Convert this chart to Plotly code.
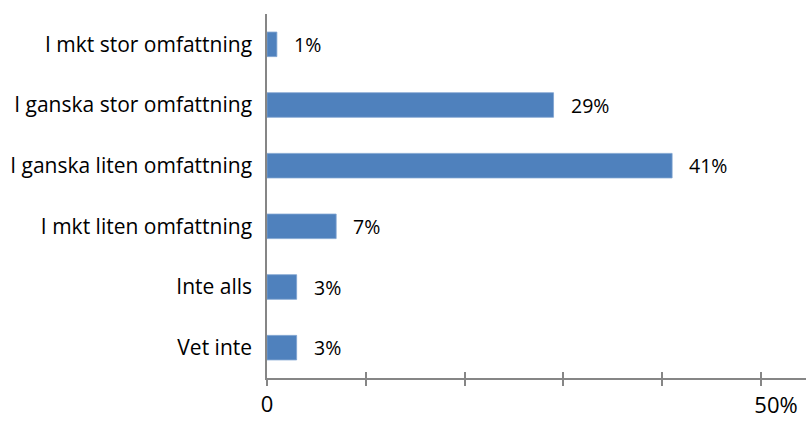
import plotly.graph_objects as go

# Survey answers, listed top to bottom, with their share in percent
categories = [
    "I mkt stor omfattning",
    "I ganska stor omfattning",
    "I ganska liten omfattning",
    "I mkt liten omfattning",
    "Inte alls",
    "Vet inte",
]
values = [1, 29, 41, 7, 3, 3]
tick_vals = [0, 10, 20, 30, 40, 50]
tick_text_left = ["0", "", "", "", "", ""]
tick_text_right = ["", "", "", "", "", "50%"]

BAR = "#4F81BD"
AXIS = "#868686"
FONT = "Open Sans"

fig = go.Figure()
fig.add_trace(go.Bar(
    x=values,
    y=categories,
    orientation="h",
    marker=dict(color=BAR, line=dict(color="#7FA3D1", width=0.8)),
    width=0.405,
    hoverinfo="skip",
))
# Invisible companion trace so the overlaying axis carries inward ticks
fig.add_trace(go.Scatter(x=[0], y=[categories[0]], xaxis="x2", mode="markers",
                         marker=dict(opacity=0), hoverinfo="skip", showlegend=False))

for cat, v in zip(categories, values):
    fig.add_annotation(x=v, y=cat, text=f"{v}%", showarrow=False,
                       xanchor="left", xshift=15,
                       font=dict(family=FONT, size=19.5, color="#000000"))

x_range = [0, 54.55]
axis_font = dict(family=FONT, size=22, color="#000000")
fig.update_layout(
    width=806, height=422,
    margin=dict(l=267, r=0, t=14, b=44),
    paper_bgcolor="white", plot_bgcolor="white",
    showlegend=False,
    bargap=0.595,
    xaxis=dict(
        range=x_range, tickvals=tick_vals, ticktext=tick_text_left,
        showgrid=False, zeroline=False, automargin=False,
        showline=True, linecolor=AXIS, linewidth=1.5,
        ticks="outside", ticklen=6, tickwidth=1.5, tickcolor=AXIS,
        tickfont=axis_font, ticklabelstandoff=0,
    ),
    xaxis2=dict(
        range=x_range, tickvals=tick_vals, ticktext=tick_text_right,
        overlaying="x", anchor="y", side="bottom", automargin=False,
        showgrid=False, zeroline=False, showline=False,
        ticks="inside", ticklen=6, tickwidth=1.5, tickcolor=AXIS,
        tickfont=axis_font, ticklabelstandoff=12, ticklabelshift=15,
    ),
    yaxis=dict(
        categoryorder="array", categoryarray=categories, autorange="reversed",
        showgrid=False, zeroline=False, automargin=False,
        showline=True, linecolor=AXIS, linewidth=1.5,
        ticks="", ticklabelstandoff=9,
        tickfont=dict(family=FONT, size=21, color="#000000"),
    ),
)

fig.write_html("out.html")
